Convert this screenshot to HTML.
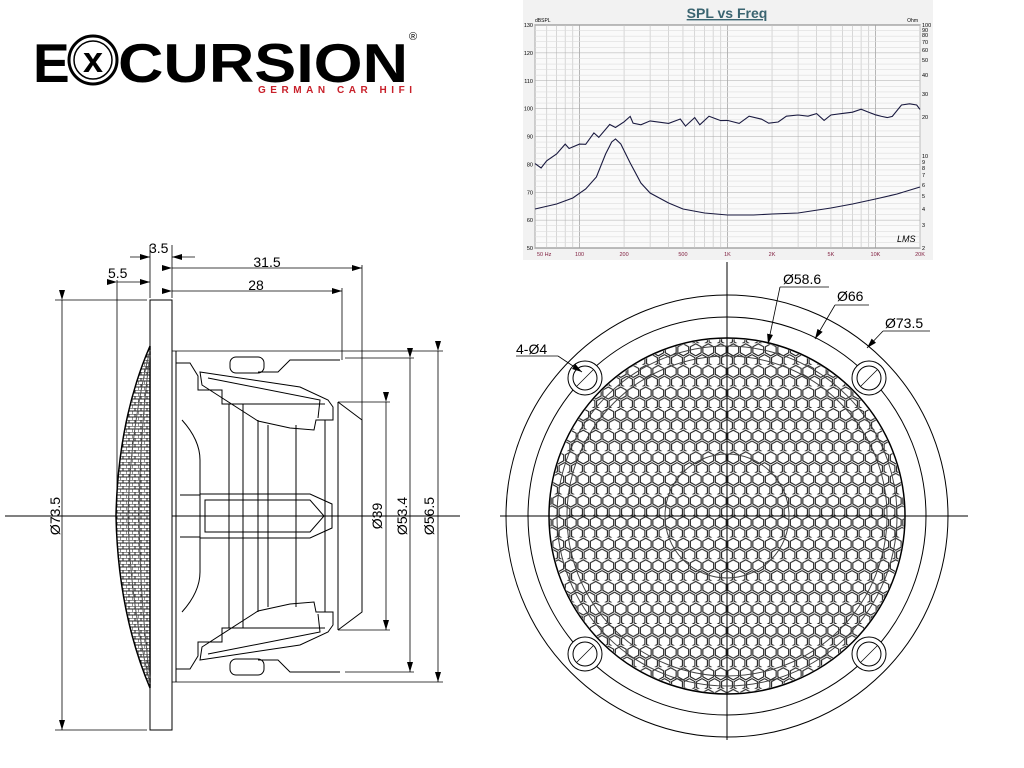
<!DOCTYPE html>
<html><head><meta charset="utf-8"><style>
html,body{margin:0;padding:0;background:#fff;}
svg{display:block}
text{font-family:"Liberation Sans",Arial,sans-serif}
</style></head><body>
<svg id="s" width="1024" height="768" viewBox="0 0 1024 768" xmlns="http://www.w3.org/2000/svg">
<defs>
<pattern id="hex" width="12.5" height="21.6" patternUnits="userSpaceOnUse" x="727" y="516">
<path d="M6.25 0.6 L11.65 3.6 L11.65 9.6 L6.25 12.6 L0.85 9.6 L0.85 3.6 Z M0 11.4 L5.4 14.4 L5.4 20.4 L0 23.4 M12.5 11.4 L7.1 14.4 L7.1 20.4 L12.5 23.4" fill="none" stroke="#222" stroke-width="1.1"/>
</pattern>
<pattern id="hex2" width="6" height="6" patternUnits="userSpaceOnUse">
<path d="M0 0 L6 0 M0 3 L6 3 M3 0 L3 3 M0 3 L0 6" fill="none" stroke="#222" stroke-width="1"/>
</pattern>
<clipPath id="cg"><circle cx="727" cy="516" r="177"/></clipPath>
<marker id="ar" markerWidth="10" markerHeight="6" refX="10" refY="3" orient="auto" markerUnits="userSpaceOnUse"><path d="M0 0 L10 3 L0 6 Z" fill="#000"/></marker>
</defs>

<!-- LOGO -->
<text x="33" y="82" font-size="55" font-weight="bold" fill="#000">E</text>
<circle cx="93" cy="60" r="24" fill="#fff" stroke="#000" stroke-width="3"/>
<circle cx="93" cy="60" r="19" fill="#fff" stroke="#000" stroke-width="1.5"/>
<text x="93" y="72" font-size="36" font-weight="bold" text-anchor="middle">x</text>
<text x="118" y="82" font-size="55" font-weight="bold" textLength="290" lengthAdjust="spacingAndGlyphs">CURSION</text>
<text x="409" y="40" font-size="11">®</text>
<text x="258" y="93" font-size="10" font-weight="bold" fill="#c8202a" textLength="154" lengthAdjust="spacing">GERMAN CAR HIFI</text>

<!-- GRAPH -->
<rect x="523" y="0" width="410" height="260" fill="#f2f2f2"/>
<text x="727" y="18" font-size="14" font-weight="bold" fill="#3a6470" text-anchor="middle" text-decoration="underline">SPL vs Freq</text>
<rect x="535" y="25" width="385" height="223" fill="#fafafa" stroke="#555" stroke-width="1"/>
<g id="grid"></g>
<g id="curves"></g>
<text x="535" y="22" font-size="5">dBSPL</text>
<text x="918" y="22" font-size="5" text-anchor="end">Ohm</text>
<text x="897" y="242" font-size="9" font-style="italic">LMS</text>

<!-- SIDE VIEW -->
<g fill="none" stroke="#000" stroke-width="1">
<line x1="5" y1="516" x2="460" y2="516"/>
<rect x="150" y="300" width="22" height="430" fill="#fff"/>
<path d="M150 346 Q118 420 116 516 Q118 612 150 688 Z" fill="url(#hex2)" stroke-width="1.5"/>
<path d="M150 350 Q130 430 128 516 Q130 602 150 684" stroke="#555"/>
<path d="M150 355 Q140 430 139 516 Q140 602 150 678" stroke="#555"/>
<line x1="172" y1="351" x2="443" y2="351" stroke-width="0.8"/>
<line x1="172" y1="682" x2="443" y2="682" stroke-width="0.8"/>
<line x1="176" y1="351" x2="176" y2="682"/>
<path d="M176 363 L190 363 L198 376 L198 390 L222 390 L222 404 L325 404"/>
<path d="M176 669 L190 669 L198 656 L198 642 L222 642 L222 628 L325 628"/>
<path d="M200 372 L300 387 L328 400 L333 407 L333 420 L316 420 L314 430 L290 428 L258 421 L202 385 Z"/>
<path d="M200 660 L300 645 L328 632 L333 625 L333 612 L316 612 L314 602 L290 604 L258 611 L202 647 Z"/>
<path d="M208 378 L320 400 L318 418"/>
<path d="M208 654 L320 632 L318 614"/>
<rect x="230" y="357" width="34" height="16" rx="6"/>
<rect x="230" y="659" width="34" height="16" rx="6"/>
<path d="M258 372 L278 372 L290 360 L340 360"/>
<path d="M258 660 L278 660 L290 672 L340 672"/>
<rect x="229" y="404" width="14" height="224"/>
<line x1="258" y1="420" x2="258" y2="612"/>
<line x1="268" y1="425" x2="268" y2="607"/>
<line x1="296" y1="425" x2="296" y2="607"/>
<line x1="325" y1="420" x2="325" y2="612"/>
<path d="M200 494 L310 494 L332 504 L332 528 L310 538 L200 538 Z"/>
<path d="M205 500 L310 500 L324 516 L310 532 L205 532 Z"/>
<line x1="180" y1="495" x2="200" y2="495"/><line x1="180" y1="537" x2="200" y2="537"/>
<path d="M182 420 Q200 440 200 460 L200 494"/>
<path d="M182 612 Q200 592 200 572 L200 538"/>
<path d="M338 402 L338 630 M338 402 L362 420 L362 612 L338 630"/>
<line x1="338" y1="402" x2="390" y2="402" stroke-width="0.8"/>
<line x1="338" y1="630" x2="390" y2="630" stroke-width="0.8"/>
<line x1="345" y1="358" x2="414" y2="358" stroke-width="0.8"/>
<line x1="345" y1="672" x2="414" y2="672" stroke-width="0.8"/>
<g stroke-width="0.8">
<line x1="62" y1="300" x2="62" y2="730" marker-start="url(#ar)" marker-end="url(#ar)"/>
<line x1="55" y1="300" x2="147" y2="300"/><line x1="55" y1="730" x2="147" y2="730"/>
<line x1="386" y1="402" x2="386" y2="630" marker-start="url(#ar)" marker-end="url(#ar)"/>
<line x1="410" y1="358" x2="410" y2="672" marker-start="url(#ar)" marker-end="url(#ar)"/>
<line x1="438" y1="351" x2="438" y2="682" marker-start="url(#ar)" marker-end="url(#ar)"/>
<line x1="150" y1="245" x2="150" y2="298"/><line x1="172" y1="245" x2="172" y2="298"/>
<line x1="117" y1="280" x2="117" y2="500"/>
<line x1="342" y1="288" x2="342" y2="360"/>
<line x1="362" y1="265" x2="362" y2="420"/>
<line x1="130" y1="257" x2="150" y2="257" marker-end="url(#ar)"/>
<line x1="195" y1="257" x2="172" y2="257" marker-end="url(#ar)"/>
<line x1="172" y1="268" x2="362" y2="268" marker-start="url(#ar)" marker-end="url(#ar)"/>
<line x1="117" y1="282" x2="150" y2="282" marker-start="url(#ar)" marker-end="url(#ar)"/>
<line x1="172" y1="291" x2="342" y2="291" marker-start="url(#ar)" marker-end="url(#ar)"/>
</g>
</g>
<g font-size="14" fill="#000">
<text x="149" y="253">3.5</text>
<text x="108" y="278">5.5</text>
<text x="267" y="267" text-anchor="middle">31.5</text>
<text x="256" y="290" text-anchor="middle">28</text>
<text transform="translate(60 516) rotate(-90)" text-anchor="middle">Ø73.5</text>
<text transform="translate(382 516) rotate(-90)" text-anchor="middle">Ø39</text>
<text transform="translate(407 516) rotate(-90)" text-anchor="middle">Ø53.4</text>
<text transform="translate(434 516) rotate(-90)" text-anchor="middle">Ø56.5</text>
</g>

<!-- FRONT VIEW -->
<g fill="none" stroke="#000" stroke-width="1">
<line x1="500" y1="516" x2="968" y2="516"/>
<line x1="727" y1="262" x2="727" y2="740"/>
<circle cx="727" cy="516" r="221"/>
<circle cx="727" cy="516" r="199"/>
<circle cx="727" cy="516" r="178" stroke-width="1.5"/>
<rect x="549" y="338" width="356" height="356" fill="url(#hex)" clip-path="url(#cg)" stroke="none"/>
<circle cx="727" cy="516" r="170" stroke="#444"/>
<circle cx="727" cy="516" r="160" stroke="#444"/>
<circle cx="727" cy="516" r="62" stroke="#444"/>
<g id="holes"></g>
<line x1="516" y1="356" x2="558" y2="356" stroke-width="0.8"/>
<line x1="558" y1="356" x2="582" y2="372" stroke-width="0.8" marker-end="url(#ar)"/>
<line x1="780" y1="287" x2="768" y2="344" stroke-width="0.8" marker-end="url(#ar)"/>
<line x1="780" y1="287" x2="829" y2="287" stroke-width="0.8"/>
<line x1="835" y1="305" x2="815" y2="339" stroke-width="0.8" marker-end="url(#ar)"/>
<line x1="835" y1="305" x2="869" y2="305" stroke-width="0.8"/>
<line x1="883" y1="331" x2="867" y2="348" stroke-width="0.8" marker-end="url(#ar)"/>
<line x1="883" y1="331" x2="930" y2="331" stroke-width="0.8"/>
</g>
<g font-size="14">
<text x="516" y="354">4-Ø4</text>
<text x="783" y="284">Ø58.6</text>
<text x="837" y="301">Ø66</text>
<text x="885" y="328">Ø73.5</text>
</g>
</svg>
<script>
var NS="http://www.w3.org/2000/svg";
function el(p,n,a){var e=document.createElementNS(NS,n);for(var k in a)e.setAttribute(k,a[k]);p.appendChild(e);return e;}
var g=document.getElementById('grid'),c=document.getElementById('curves');
function fx(f){return 535+385*Math.log(f/50)/Math.log(400);}
function dy(d){return 25+(130-d)*223/80;}
var fs=[];for(var d=10;d<=10000;d*=10)for(var m=1;m<10;m++){var f=d*m;if(f>=50&&f<=20000)fs.push(f);}
fs.push(20000);
fs.forEach(function(f){var x=fx(f);el(g,'line',{x1:x,y1:25,x2:x,y2:248,stroke:(f==100||f==1000||f==10000)?'#999':'#c8c8c8','stroke-width':0.7});});
for(var d2=50;d2<=130;d2+=2){var y=dy(d2);el(g,'line',{x1:535,y1:y,x2:920,y2:y,stroke:d2%10==0?'#aaa':'#ddd','stroke-width':0.6});}
for(var d3=50;d3<=130;d3+=10){var t=el(g,'text',{x:533,y:dy(d3)+2,'font-size':5.5,'text-anchor':'end'});t.textContent=d3;}
var ol=[[100,25],[90,30],[80,35],[70,42],[60,50],[50,60],[40,75],[30,94],[20,117],[10,156],[9,162],[8,168],[7,175],[6,185],[5,196],[4,209],[3,225],[2,248]];
ol.forEach(function(o){var t=el(g,'text',{x:922,y:o[1]+2,'font-size':5.5});t.textContent=o[0];});
[[50,'50 Hz'],[100,'100'],[200,'200'],[500,'500'],[1000,'1K'],[2000,'2K'],[5000,'5K'],[10000,'10K'],[20000,'20K']].forEach(function(l){var t=el(g,'text',{x:fx(l[0])+(l[0]==50?2:0),y:256,'font-size':5.5,fill:'#802040','text-anchor':l[0]==50?'start':'middle'});t.textContent=l[1];});
var spl=[[50,80],[55,79],[60,81],[70,84],[80,87],[85,86],[100,87],[110,87.5],[125,91],[135,90],[160,94],[175,93.5],[200,95],[220,97.5],[230,94.5],[260,94.5],[300,95.3],[400,95],[480,96],[520,94],[600,96.5],[650,94.5],[750,97],[900,96],[1000,95.5],[1200,95],[1400,97],[1700,96.5],[1900,94.5],[2200,95.5],[2500,97],[3000,98],[3500,97],[4000,98.5],[4500,95.5],[5000,98],[6000,98],[7000,99],[8000,99.5],[9000,99],[10000,97.5],[11000,97.5],[12000,96.5],[13000,97.5],[15000,101],[17000,102],[19000,101],[20000,100]];
var d="";spl.forEach(function(p,i){var x=fx(p[0]),y=dy(p[1])+((i%2)?0.8:-0.8);d+=(i?"L":"M")+x.toFixed(1)+" "+y.toFixed(1);});
el(c,'path',{d:d,fill:'none',stroke:'#1a1a40','stroke-width':1.1});
var imp=[[50,209],[70,204],[90,198],[110,189],[130,177],[150,154],[165,142],[175,139],[190,144],[220,163],[260,183],[300,193],[400,203],[500,209],[700,213],[1000,215],[1500,215],[2000,214],[3000,213],[5000,208],[7000,204],[10000,199],[14000,194],[20000,187]];
d="";imp.forEach(function(p,i){d+=(i?"L":"M")+fx(p[0]).toFixed(1)+" "+p[1];});
el(c,'path',{d:d,fill:'none',stroke:'#1a1a40','stroke-width':1.1});
var h=document.getElementById('holes');
[[585,378],[869,378],[585,654],[869,654]].forEach(function(p){el(h,'circle',{cx:p[0],cy:p[1],r:17,fill:'#fff'});el(h,'circle',{cx:p[0],cy:p[1],r:12});el(h,'line',{x1:p[0]-8,y1:p[1]+8,x2:p[0]+8,y2:p[1]-8,'stroke-width':0.7});});
</script>
</body></html>
